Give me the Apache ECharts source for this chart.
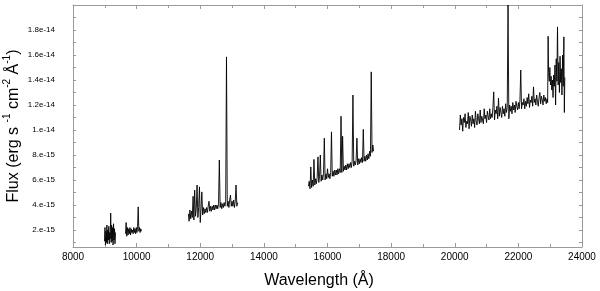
<!DOCTYPE html>
<html>
<head>
<meta charset="utf-8">
<script src="https://cdn.jsdelivr.net/npm/echarts@6/dist/echarts.min.js"></script>
<style>
html,body{margin:0;padding:0;background:#fff;}
#c{width:600px;height:291px;}
</style>
</head>
<body>
<div id="c"></div>
<script>
// Flux values are in units of 1e-15 erg s^-1 cm^-2 Å^-1
var seg1Wave = [8990,9005,9020,9035,9050,9065,9080,9095,9110,9125,9140,9155,9170,9185,9200,9215,9230,9245,9260,9275,9290,9305,9320,9335];
var seg1Flux = [1.1,2.2,0.8,1.9,1.0,2.4,0.9,2.0,1.2,2.3,0.9,1.8,1.3,3.35,1.0,2.4,1.1,2.2,0.8,2.5,1.2,2.1,0.9,1.8];

var seg2Wave = [9650,9670,9690,9710,9730,9750,9770,9790,9810,9830,9850,9870,9890,9910,9930,9950,9970,9990,10010,10030,10050,10070,10090,10110,10130,10150];
var seg2Flux = [1.7,2.6,1.5,2.2,1.6,2.1,1.7,2.2,1.6,2.1,1.8,2.0,1.7,2.2,1.8,2.1,1.7,2.2,1.8,2.3,3.85,1.9,2.2,1.8,2.1,1.9];

var seg3Wave = [11625,11650,11675,11700,11725,11750,11775,11800,11825,11850,11875,11900,11925,11950,11975,12000,12025,12050,12075,12100,12125,12150,12175,12200,12225,12250,12275,12300,12325,12350,12375,12400,12425,12450,12475,12500,12525,12550,12575,12600,12625,12650,12675,12700,12725,12750,12775,12800,12825,12850,12875,12900,12925,12950,12975,13000,13025,13050,13075,13100,13125,13150,13175];
var seg3Flux = [3.3,2.7,3.6,2.9,3.5,3.0,4.7,2.8,5.2,3.1,3.7,5.6,3.0,3.8,5.45,2.6,3.7,5.05,3.2,3.8,3.3,3.7,3.4,3.8,3.4,3.9,4.3,3.5,3.9,3.5,3.9,3.6,4.0,3.6,4.0,3.7,4.0,3.7,4.1,7.6,3.8,4.2,3.7,4.1,3.8,4.2,3.9,4.3,15.85,3.9,4.3,3.8,4.4,4.8,3.9,4.3,3.9,4.4,3.8,4.3,5.6,3.9,4.2];

var seg4Wave = [15400,15425,15450,15475,15500,15525,15550,15575,15600,15625,15650,15675,15700,15725,15750,15775,15800,15825,15850,15875,15900,15925,15950,15975,16000,16025,16050,16075,16100,16125,16150,16175,16200,16225,16250,16275,16300,16325,16350,16375,16400,16425,16450,16475,16500,16525,16550,16575,16600,16625,16650,16675,16700,16725,16750,16775,16800,16825,16850,16875,16900,16925,16950,16975,17000,17025,17050,17075,17100,17125,17150,17175,17200,17225,17250,17275,17300,17325,17350,17375,17400,17425,17450];
var seg4Flux = [5.5,5.9,5.3,7.05,5.4,6.0,5.5,7.65,5.6,6.1,5.7,6.2,7.85,5.8,6.3,8.0,5.9,6.4,6.0,6.5,9.35,6.0,6.5,6.1,6.9,6.2,6.5,6.1,6.6,9.85,6.3,6.7,6.3,6.8,6.4,6.8,6.4,6.9,6.5,6.9,6.6,11.1,6.6,9.5,6.7,7.1,6.8,7.2,6.8,7.3,6.9,7.3,7.0,7.4,7.0,7.5,12.8,7.1,7.5,7.2,7.6,9.35,7.2,7.7,7.3,7.7,7.4,7.8,7.4,10.05,7.5,7.9,7.5,8.0,7.6,8.1,7.7,8.3,7.9,14.65,8.2,8.8,8.3];

var seg5Wave = [20150,20175,20200,20225,20250,20275,20300,20325,20350,20375,20400,20425,20450,20475,20500,20525,20550,20575,20600,20625,20650,20675,20700,20725,20750,20775,20800,20825,20850,20875,20900,20925,20950,20975,21000,21025,21050,21075,21100,21125,21150,21175,21200,21225,21250,21275,21300,21325,21350,21375,21400,21425,21450,21475,21500,21525,21550,21575,21600,21625,21650,21675,21700,21725,21750,21775,21800,21825,21850,21875,21900,21925,21950,21975,22000,22025,22050,22075,22100,22125,22150,22175,22200,22225,22250,22275,22300,22325,22350,22375,22400,22425,22450,22475,22500,22525,22550,22575,22600,22625,22650,22675,22700,22725,22750,22775,22800,22825,22850,22875,22900,22920,22935,22950,22970,22990,23010,23030,23050,23070,23090,23110,23130,23150,23170,23190,23210,23230,23250,23270,23290,23310,23330,23350,23370,23390,23410,23430,23445,23460];
var seg5Flux = [10.0,11.2,10.4,10.9,9.9,11.0,10.6,11.3,10.2,10.7,10.5,11.4,10.1,11.1,10.8,10.3,11.2,10.5,10.9,10.2,11.5,10.7,10.4,11.3,10.9,10.5,11.6,10.6,11.1,10.8,10.5,11.7,10.9,11.2,10.6,11.5,11.1,10.8,11.7,10.9,11.3,11.0,11.8,13.05,10.8,11.6,11.3,11.9,10.9,12.55,11.1,11.8,11.4,11.0,11.9,11.3,11.7,11.1,12.1,11.4,11.8,20.0,10.9,12.0,11.5,11.9,11.3,12.2,11.6,12.0,11.4,12.3,11.9,11.6,12.2,11.7,12.4,14.8,11.7,12.2,12.0,12.5,11.7,12.3,11.9,12.6,12.1,12.9,11.8,12.4,12.2,12.7,11.9,13.45,12.2,12.5,12.0,12.8,12.3,11.9,12.6,13.0,12.1,12.7,12.4,12.0,12.8,12.3,12.6,12.1,12.5,12.2,17.5,14.6,13.9,15.0,13.6,14.3,13.2,14.0,12.6,14.4,13.5,15.2,12.0,15.7,13.9,18.25,13.6,15.4,13.0,15.9,13.8,14.9,12.8,16.0,13.5,17.45,11.4,14.2];

var xTickLabels = ['8000','10000','12000','14000','16000','18000','20000','22000','24000'];
var yTickValues = [2,4,6,8,10,12,14,16,18];
var yTickLabels = ['2.e-15','4.e-15','6.e-15','8.e-15','1.e-14','1.2e-14','1.4e-14','1.6e-14','1.8e-14'];
var yMinorValues = [1,2,3,4,5,6,7,8,9,10,11,12,13,14,15,16,17,18,19];

function pairs(w, f) {
  var out = [];
  for (var i = 0; i < w.length; i++) out.push([w[i], f[i]]);
  return out;
}
var segments = [[seg1Wave, seg1Flux],[seg2Wave, seg2Flux],[seg3Wave, seg3Flux],[seg4Wave, seg4Flux],[seg5Wave, seg5Flux]];

var frame = '#9a9a9a';
var font = 'Liberation Sans, Arial, Helvetica, sans-serif';
var chart = echarts.init(document.getElementById('c'), null, {renderer: 'canvas'});

var xCommon = {
  type: 'value', min: 8000, max: 24000, interval: 2000,
  axisLine: {show: true, lineStyle: {color: frame, width: 1}},
  axisTick: {show: true, inside: true, length: 4, lineStyle: {color: frame}},
  minorTick: {show: true, splitNumber: 2, length: 3, lineStyle: {color: frame}},
  splitLine: {show: false}
};
var yCommon = {
  type: 'value', min: 0.64, max: 20,
  axisLine: {show: true, lineStyle: {color: frame, width: 1}},
  axisTick: {show: true, inside: true, length: 3, customValues: yMinorValues, lineStyle: {color: frame}},
  splitLine: {show: false}
};

chart.setOption({
  animation: false,
  backgroundColor: '#fff',
  grid: {left: 73, right: 18, top: 5, bottom: 44, containLabel: false, outerBoundsMode: 'none'},
  xAxis: [
    Object.assign({}, xCommon, {
      position: 'bottom',
      name: 'Wavelength (Å)', nameLocation: 'middle', nameGap: 26, nameMoveOverlap: false,
      nameTextStyle: {fontFamily: font, fontSize: 16, color: '#000', padding: [0, 17, 0, 0]},
      axisLabel: {show: true, margin: 5, fontFamily: font, fontSize: 10, color: '#000',
        formatter: function (v) { var i = (v - 8000) / 2000; return xTickLabels[i] || ''; }}
    }),
    Object.assign({}, xCommon, {position: 'top', axisLabel: {show: false}})
  ],
  yAxis: [
    Object.assign({}, yCommon, {
      position: 'left',
      name: '{m|Flux (erg s }{s|-1}{m| cm}{s|-2}{m| Å}{s|-1}{m|)}',
      nameLocation: 'middle', nameGap: 51, nameRotate: 90, nameMoveOverlap: false,
      nameTextStyle: {
        rich: {
          m: {fontFamily: font, fontSize: 16, color: '#000', lineHeight: 20, verticalAlign: 'bottom'},
          s: {fontFamily: font, fontSize: 10, color: '#000', lineHeight: 20, verticalAlign: 'top'}
        }
      },
      axisLabel: {show: true, margin: 18, fontFamily: font, fontSize: 8, color: '#000',
        customValues: yTickValues,
        formatter: function (v) { var i = yTickValues.indexOf(Math.round(v)); return i >= 0 ? yTickLabels[i] : ''; }}
    }),
    Object.assign({}, yCommon, {position: 'right', axisLabel: {show: false}})
  ],
  series: segments.map(function (s) {
    return {
      type: 'line', xAxisIndex: 0, yAxisIndex: 0,
      data: pairs(s[0], s[1]),
      symbol: 'none', showSymbol: false, silent: true,
      lineStyle: {color: '#000', width: 0.9},
      clip: true
    };
  })
});
</script>
</body>
</html>
